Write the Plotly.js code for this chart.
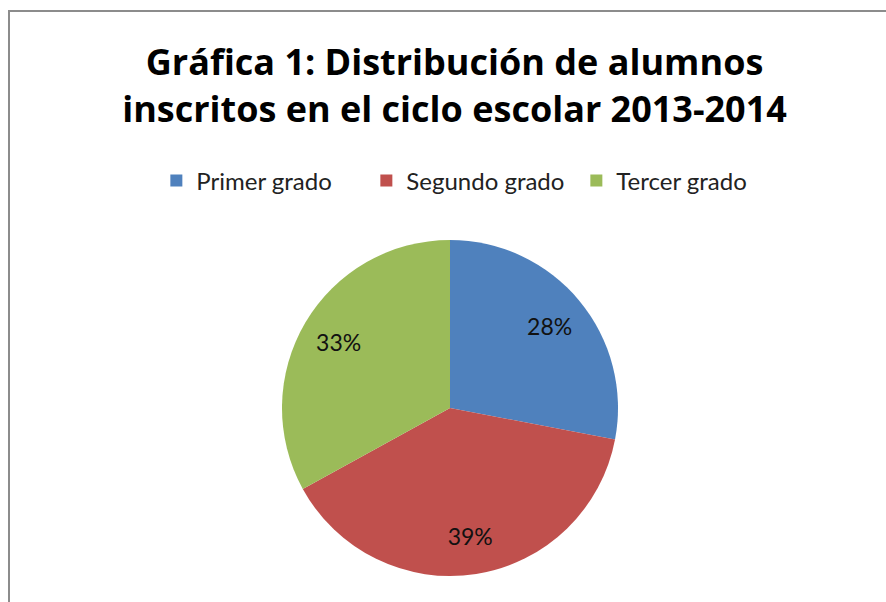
<!DOCTYPE html>
<html>
<head>
<meta charset="utf-8">
<script src="https://cdn.plot.ly/plotly-3.0.1.min.js"></script>
<style>
  html, body { margin: 0; padding: 0; background: #fff; }
  #chart { width: 886px; height: 602px; }
</style>
</head>
<body>
<div id="chart"></div>
<script>
// Chart data
const grados = ['Primer grado', 'Segundo grado', 'Tercer grado'];
const porcentajes = [28, 39, 33];
const colores = ['#4F81BD', '#C0504D', '#9BBB59'];

const W = 886, H = 602;
const cx = 450, cy = 408, r = 168;
const pieDomain = {
  x: [(cx - r) / W, (cx + r) / W],
  y: [(H - cy - r) / H, (H - cy + r) / H]
};
const labelFont = { family: 'Lato', size: 23, color: '#111' };

const data = [
  // coloured slices
  {
    type: 'pie',
    labels: grados,
    values: porcentajes,
    sort: false,
    direction: 'clockwise',
    rotation: 0,
    marker: { colors: colores, line: { width: 0 } },
    textinfo: 'none',
    domain: pieDomain,
    hoverinfo: 'label+percent'
  },
  // transparent ring used only to place the percent labels further out
  {
    type: 'pie',
    labels: grados,
    values: porcentajes,
    sort: false,
    direction: 'clockwise',
    rotation: 0,
    hole: 0.54,
    showlegend: false,
    marker: { colors: ['rgba(0,0,0,0)', 'rgba(0,0,0,0)', 'rgba(0,0,0,0)'], line: { width: 0 } },
    textinfo: 'percent',
    textposition: 'inside',
    insidetextorientation: 'horizontal',
    textfont: labelFont,
    insidetextfont: labelFont,
    domain: pieDomain,
    hoverinfo: 'skip'
  }
];

const layout = {
  width: W,
  height: H,
  margin: { l: 0, r: 0, t: 0, b: 0 },
  paper_bgcolor: '#fff',
  font: { family: 'Lato', color: '#000' },
  title: {
    text: '<b>Gráfica 1: Distribución de alumnos<br>inscritos en el ciclo escolar 2013-2014</b>',
    font: { family: '"Open Sans", Lato, sans-serif', size: 36, color: '#000' },
    x: 0.513, xanchor: 'center',
    y: 1 - 75 / H, yanchor: 'middle'
  },
  showlegend: true,
  legend: {
    orientation: 'h',
    x: 0.532, xanchor: 'center',
    y: 1 - 181 / H, yanchor: 'middle',
    font: { family: 'Lato', size: 24, color: '#222' },
    entrywidth: 165,
    entrywidthmode: 'pixels',
    traceorder: 'normal'
  },
  shapes: [{
    type: 'rect', xref: 'paper', yref: 'paper',
    x0: 9 / W, x1: 1.05, y0: -0.05, y1: 1 - 11 / H,
    line: { color: '#8c8c8c', width: 2 },
    fillcolor: 'rgba(0,0,0,0)'
  }]
};

Plotly.newPlot('chart', data, layout, { displayModeBar: false });
</script>
</body>
</html>
